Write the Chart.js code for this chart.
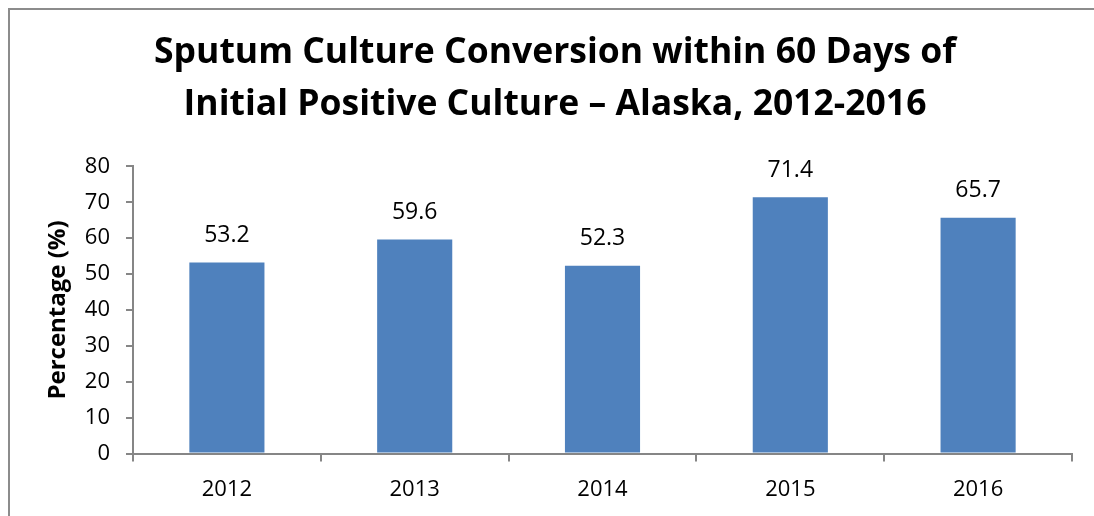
<!DOCTYPE html>
<html>
<head>
<meta charset="utf-8">
<script src="https://cdn.jsdelivr.net/npm/chart.js@4.4.1/dist/chart.umd.min.js"></script>
<style>
    html, body { margin: 0; padding: 0; background: #ffffff; }
    #wrap { position: relative; width: 1094px; height: 516px; }
    #frame {
        position: absolute; left: 8px; top: 8px; right: 0; bottom: 0;
        border-left: 2px solid #8c8c8c; border-top: 2px solid #8c8c8c;
        pointer-events: none;
    }
</style>
</head>
<body>
<div id="wrap">
    <canvas id="myBarChart" width="1094" height="516"></canvas>
    <div id="frame"></div>
</div>
<script>
const years = ['2012', '2013', '2014', '2015', '2016'];
const conversionPct = [53.2, 59.6, 52.3, 71.4, 65.7];
const yTicks = [0, 10, 20, 30, 40, 50, 60, 70, 80];

const chartTitle = ['Sputum Culture Conversion within 60 Days of', 'Initial Positive Culture \u2013 Alaska, 2012-2016'];
const yAxisTitle = 'Percentage (%)';

const fontFamily = "'Open Sans', 'Liberation Sans', sans-serif";
const axisGray = '#868686';

// draws the value above each bar
const valueLabels = {
    id: 'valueLabels',
    afterDatasetsDraw(chart) {
        const ctx = chart.ctx;
        const meta = chart.getDatasetMeta(0);
        ctx.save();
        ctx.font = '23px ' + fontFamily;
        ctx.fillStyle = '#000000';
        ctx.textAlign = 'center';
        ctx.textBaseline = 'middle';
        meta.data.forEach((bar, i) => {
            ctx.fillText(conversionPct[i].toFixed(1), bar.x, bar.y - 27);
        });
        ctx.restore();
    }
};

let ctx = document.getElementById('myBarChart').getContext('2d');

let myBarChart = new Chart(ctx, {
    type: 'bar',
    data: {
        labels: years,
        datasets: [{
            data: conversionPct,
            backgroundColor: '#4f81bd',
            borderWidth: 0,
            categoryPercentage: 1.0,
            barPercentage: 0.4
        }]
    },
    options: {
        responsive: false,
        animation: false,
        devicePixelRatio: 1,
        layout: {
            padding: { left: 38, right: 22, top: 0, bottom: -2 }
        },
        plugins: {
            legend: { display: false },
            tooltip: { enabled: false },
            title: {
                display: true,
                text: chartTitle,
                color: '#000000',
                font: { family: fontFamily, size: 35.5, weight: 'bold', lineHeight: 1.47 },
                padding: { top: 27, bottom: 35 }
            }
        },
        scales: {
            x: {
                offset: true,
                grid: {
                    offset: true,
                    drawOnChartArea: false,
                    drawTicks: true,
                    tickLength: 8,
                    color: axisGray,
                    lineWidth: 2
                },
                border: { color: axisGray, width: 2 },
                ticks: {
                    color: '#000000',
                    font: { family: fontFamily, size: 22 },
                    padding: 15
                }
            },
            y: {
                min: 0,
                max: 80,
                afterBuildTicks(scale) {
                    scale.ticks = yTicks.map(v => ({ value: v }));
                },
                afterFit(scale) {
                    scale.width = 95;
                },
                grid: {
                    drawOnChartArea: false,
                    drawTicks: true,
                    tickLength: 7,
                    color: axisGray,
                    lineWidth: 2
                },
                border: { color: axisGray, width: 2 },
                ticks: {
                    color: '#000000',
                    font: { family: fontFamily, size: 22 },
                    padding: 16
                },
                title: {
                    display: true,
                    text: yAxisTitle,
                    color: '#000000',
                    font: { family: fontFamily, size: 24, weight: 'bold' },
                    padding: { top: 6, bottom: 0 }
                }
            }
        }
    },
    plugins: [valueLabels]
});
</script>
</body>
</html>
